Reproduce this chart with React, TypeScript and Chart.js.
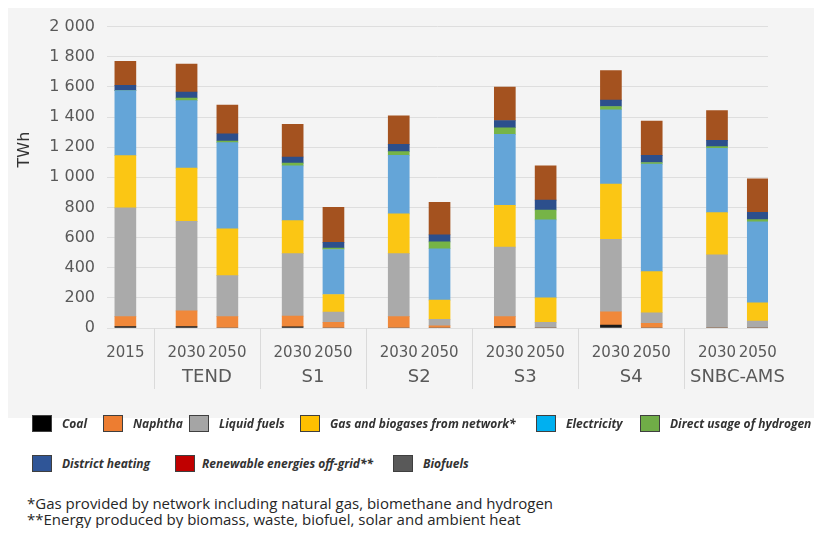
import React, { useEffect, useRef } from "react";
import { Chart, registerables } from "chart.js";
Chart.register(...registerables);

// ---- data (TWh) ----
const YEARS = ["2015", "2030", "2050", "2030", "2050", "2030", "2050", "2030", "2050", "2030", "2050", "2030", "2050"];
const SCENARIOS = ["", "TEND", "S1", "S2", "S3", "S4", "SNBC-AMS"];

const COAL = [10, 10, 0, 8, 0, 0, 0, 10, 0, 20, 0, 0, 0];
const NAPHTHA = [65, 104, 75, 71, 37, 75, 15, 65, 0, 88, 31, 0, 0];
const LIQUID = [722, 594, 273, 414, 69, 418, 42, 462, 37, 481, 70, 486, 46];
const GAS = [347, 353, 310, 220, 116, 264, 128, 277, 163, 366, 273, 280, 121];
const ELEC = [431, 448, 572, 363, 299, 389, 341, 471, 517, 493, 713, 427, 537];
const H2 = [0, 16, 11, 18, 9, 24, 46, 44, 66, 22, 11, 11, 15];
const DH = [35, 41, 48, 41, 38, 49, 46, 48, 66, 42, 48, 41, 49];
const RENEW = [159, 185, 190, 216, 233, 189, 216, 222, 227, 196, 227, 198, 222];

const Y_TICKS = [0, 200, 400, 600, 800, 1000, 1200, 1400, 1600, 1800, 2000];

// ---- layout of the category slots ----
const TOTAL_SLOTS = 162;
const FIRST_SLOT = 4;
const GROUP_START = 19;
const GROUP_STEP = 26;
const PAIR_GAP = 10;
const SEP_BEFORE = 8;

const barSlot = (i: number) => {
  if (i === 0) return FIRST_SLOT;
  const g = Math.floor((i - 1) / 2);
  const j = (i - 1) % 2;
  return GROUP_START + GROUP_STEP * g + PAIR_GAP * j;
};

const pad = (arr: number[]) => {
  const out: (number | null)[] = new Array(TOTAL_SLOTS).fill(null);
  arr.forEach((v, i) => (out[barSlot(i)] = v));
  return out;
};

const SERIES = [
  { label: "Coal", data: COAL, color: "#1a1a1a" },
  { label: "Naphtha", data: NAPHTHA, color: "#f0883a" },
  { label: "Liquid fuels", data: LIQUID, color: "#aaaaaa" },
  { label: "Gas and biogases from network*", data: GAS, color: "#fbc614" },
  { label: "Electricity", data: ELEC, color: "#64a5d8" },
  { label: "Direct usage of hydrogen", data: H2, color: "#76b447" },
  { label: "District heating", data: DH, color: "#2c4f8c" },
  { label: "Renewable energies off-grid**", data: RENEW, color: "#a4521f" },
];

const LEGEND = [
  { label: "Coal", color: "#000000", x: 32, y: 0, tx: 62 },
  { label: "Naphtha", color: "#ed7d31", x: 103, y: 0, tx: 133 },
  { label: "Liquid fuels", color: "#a5a5a5", x: 189, y: 0, tx: 219 },
  { label: "Gas and biogases from network*", color: "#ffc000", x: 300, y: 0, tx: 330 },
  { label: "Electricity", color: "#00b0f0", x: 536, y: 0, tx: 566 },
  { label: "Direct usage of hydrogen", color: "#70ad47", x: 640, y: 0, tx: 670 },
  { label: "District heating", color: "#2f5597", x: 32, y: 1, tx: 62 },
  { label: "Renewable energies off-grid**", color: "#c00000", x: 175, y: 1, tx: 202 },
  { label: "Biofuels", color: "#595959", x: 393, y: 1, tx: 423 },
];

const FOOTNOTES = [
  "*Gas provided by network including natural gas, biomethane and hydrogen",
  "**Energy produced by biomass, waste, biofuel, solar and ambient heat",
];

const AXIS_FONT = "'DejaVu Sans', sans-serif";

const labelsPlugin = {
  id: "multiLevelLabels",
  afterDraw(chart: any) {
    const { ctx, chartArea, scales } = chart;
    const x = scales.x;
    const bottom = chartArea.bottom;
    ctx.save();
    ctx.fillStyle = "#595959";
    ctx.textAlign = "center";
    ctx.textBaseline = "middle";
    ctx.font = `15px ${AXIS_FONT}`;
    YEARS.forEach((yr, i) => {
      ctx.fillText(yr, x.getPixelForValue(barSlot(i)), bottom + 25);
    });
    ctx.font = `18px ${AXIS_FONT}`;
    SCENARIOS.forEach((s, g) => {
      if (!s) return;
      const a = x.getPixelForValue(barSlot(2 * g - 1));
      const b = x.getPixelForValue(barSlot(2 * g));
      ctx.fillText(s, (a + b) / 2, bottom + 49);
    });
    ctx.strokeStyle = "#dadada";
    ctx.lineWidth = 1;
    SCENARIOS.forEach((s, g) => {
      if (!s) return;
      const px = Math.round(x.getPixelForValue(barSlot(2 * g - 1) - SEP_BEFORE)) + 0.5;
      ctx.beginPath();
      ctx.moveTo(px, bottom);
      ctx.lineTo(px, bottom + 61);
      ctx.stroke();
    });
    // axis title
    ctx.fillStyle = "#333333";
    ctx.font = `16px ${AXIS_FONT}`;
    ctx.translate(17, chartArea.top + 123);
    ctx.rotate(-Math.PI / 2);
    ctx.fillText("TWh", 0, 0);
    ctx.restore();
  },
};

function ChartCanvas() {
  const ref = useRef<HTMLCanvasElement>(null);
  useEffect(() => {
    if (!ref.current) return;
    const labels = new Array(TOTAL_SLOTS).fill("").map((_, i) => String(i));
    const chart = new Chart(ref.current, {
      type: "bar",
      data: {
        labels,
        datasets: SERIES.map((s) => ({
          label: s.label,
          data: pad(s.data),
          backgroundColor: s.color,
          borderWidth: 0,
          barThickness: 21,
        })),
      },
      options: {
        animation: false,
        responsive: false,
        devicePixelRatio: 1,
        layout: { padding: { top: 20, right: 47, bottom: 0, left: 0 } },
        plugins: { legend: { display: false }, tooltip: { enabled: false } },
        scales: {
          x: {
            stacked: true,
            grid: { display: false },
            border: { display: false },
            ticks: { display: false },
            afterFit: (s: any) => {
              s.height = 90;
            },
          },
          y: {
            stacked: true,
            min: 0,
            max: 2000,
            afterBuildTicks: (s: any) => {
              s.ticks = Y_TICKS.map((v) => ({ value: v }));
            },
            ticks: {
              padding: 12,
              color: "#595959",
              font: { family: AXIS_FONT, size: 16 },
              callback: (v: any) => String(v).replace(/\B(?=(\d{3})+(?!\d))/g, " "),
            },
            grid: { color: "#dedede", lineWidth: 1, drawTicks: false },
            border: { display: false },
            afterFit: (s: any) => {
              s.width = 99;
            },
          },
        },
      },
      plugins: [labelsPlugin],
    });
    return () => chart.destroy();
  }, []);
  return <canvas ref={ref} width={807} height={413} style={{ display: "block" }} />;
}

export default function App() {
  return (
    <div style={{ position: "relative", width: 814, height: 520 }}>
      <div style={{ position: "absolute", left: 0, top: -3, width: 807, height: 413, background: "#f4f4f4" }}>
        <ChartCanvas />
      </div>
      {LEGEND.map((l) => {
        const top = l.y === 0 ? 407 : 447;
        return (
          <React.Fragment key={l.label}>
            <div
              style={{
                position: "absolute",
                left: l.x - 8,
                top,
                width: 18,
                height: 15,
                background: l.color,
                border: "1.5px solid #3f3f3f",
                boxSizing: "content-box",
              }}
            />
            <div
              style={{
                position: "absolute",
                left: l.tx - 8,
                top: top - 1,
                lineHeight: "20px",
                fontFamily: "'Open Sans', sans-serif",
                fontWeight: 700,
                fontStyle: "italic",
                fontSize: 12,
                color: "#333333",
                whiteSpace: "nowrap",
              }}
            >
              {l.label}
            </div>
          </React.Fragment>
        );
      })}
      {FOOTNOTES.map((f, i) => (
        <div
          key={i}
          style={{
            position: "absolute",
            left: 19,
            top: 486 + i * 16,
            lineHeight: "18px",
            fontFamily: "'Open Sans', sans-serif",
            fontSize: 15,
            color: "#262626",
            whiteSpace: "nowrap",
          }}
        >
          {f}
        </div>
      ))}
    </div>
  );
}
